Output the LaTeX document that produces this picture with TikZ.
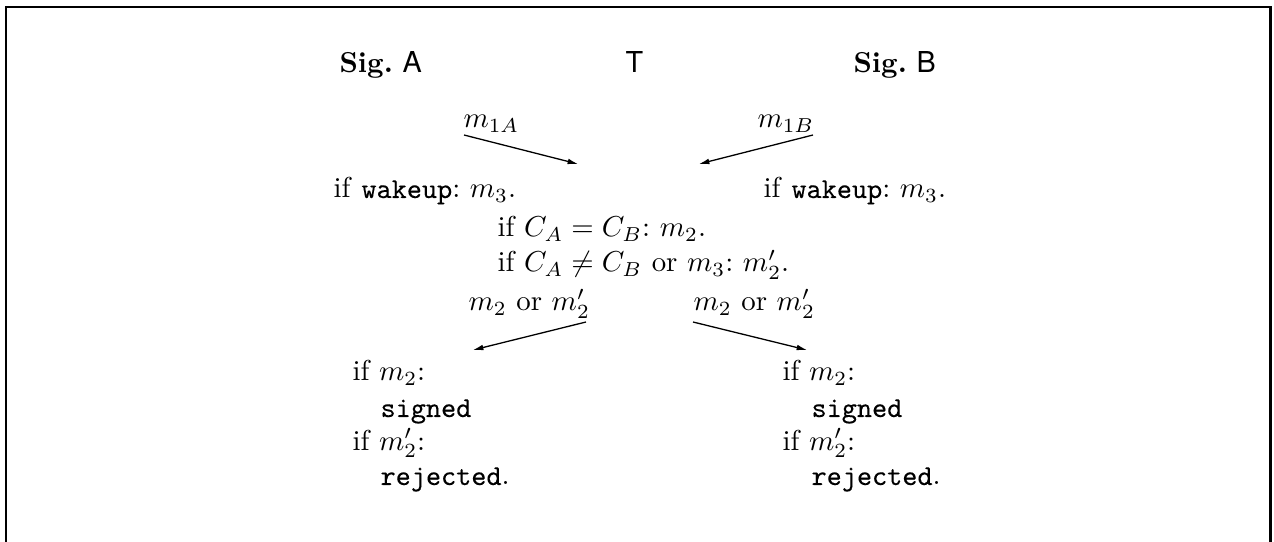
\documentclass[tikz,border=0pt]{standalone}
\usepackage{fontspec}
\setsansfont{TeX Gyre Heros}
\setmonofont{Latin Modern Mono}[RawFeature={embolden=0.12}]
\usetikzlibrary{arrows.meta}
\frenchspacing
\begin{document}
\begin{tikzpicture}[x=0.347pt, y=-0.347pt,
    txt/.style = {inner sep=0pt, anchor=base west},
    msg/.style = {-{Latex[length=3.6pt, width=2pt]}, line width=0.45pt}]
      \useasboundingbox (0,0) rectangle (1274,542);
      \draw[line width=1pt] (6,542) -- (6,7) -- (1270.5,7) -- (1270.5,542);

      % parties
      \node[txt] (sigA) at (339,73) {\textbf{Sig.} \textsf{A}};
      \node[inner sep=0pt, anchor=base] (ttp) at (634.5,73) {\textsf{T}};
      \node[txt] (sigB) at (853,73) {\textbf{Sig.} \textsf{B}};

      % first messages
      \node[txt] (m1A) at (463,128) {$m_{1A}$};
      \node[txt] (m1B) at (757,128) {$m_{1B}$};
      \coordinate (a1s) at (464,135);
      \coordinate (a1e) at (578,164);
      \coordinate (b1s) at (813,135);
      \coordinate (b1e) at (699,164);
      \draw[msg] (a1s) -- (a1e);
      \draw[msg] (b1s) -- (b1e);

      \node[txt] (wakeA) at (333,198) {if \texttt{wakeup}: $m_3$.};
      \node[txt] (wakeB) at (763,198) {if \texttt{wakeup}: $m_3$.};

      \node[txt] (eq) at (497,237) {if $C_A = C_B$: $m_2$.};
      \node[txt] (neq) at (497,272) {if $C_A \neq C_B$ or $m_3$: $m_2'$.};

      % answers
      \node[txt] (m2A) at (468,311) {$m_2$ or $m_2'$};
      \node[txt] (m2B) at (693,311) {$m_2$ or $m_2'$};
      \coordinate (a2s) at (586,322);
      \coordinate (a2e) at (473,350);
      \coordinate (b2s) at (693,322);
      \coordinate (b2e) at (807,350);
      \draw[msg] (a2s) -- (a2e);
      \draw[msg] (b2s) -- (b2e);

      \node[txt] (okA) at (352,381) {if $m_2$:};
      \node[txt] (sgA) at (380,417) {\texttt{signed}};
      \node[txt] (noA) at (352,450) {if $m_2'$:};
      \node[txt] (rjA) at (380,485) {\texttt{rejected}.};

      \node[txt] (okB) at (782,381) {if $m_2$:};
      \node[txt] (sgB) at (811,417) {\texttt{signed}};
      \node[txt] (noB) at (782,450) {if $m_2'$:};
      \node[txt] (rjB) at (811,485) {\texttt{rejected}.};
    \end{tikzpicture}
\end{document}
